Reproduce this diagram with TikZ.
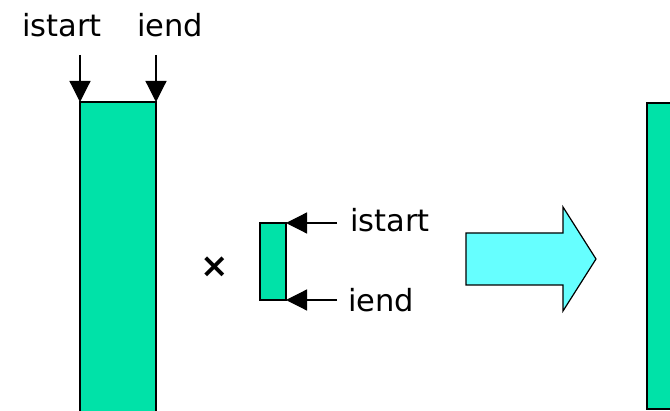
\documentclass[tikz,border=0pt]{standalone}
\usepackage{fontspec}
\setmainfont{DejaVu Sans}
\usetikzlibrary{arrows.meta}
\definecolor{blockgreen}{RGB}{0,226,168}
\definecolor{arrowcyan}{RGB}{102,255,255}
\tikzset{
  block/.style={draw, line width=1.2pt, fill=blockgreen, inner sep=0, outer sep=0, anchor=north west},
  pointer/.style={line width=1.2pt, -{Triangle[length=21pt,width=21pt]}},
  label/.style={inner sep=0, anchor=base west, font=\fontsize{30.5}{36}\selectfont}
}
\begin{document}
\begin{tikzpicture}[x=1pt,y=-1pt]
        \clip (0,0) rectangle (670,411);

        % the three blocks
        \node[block, minimum width=76pt, minimum height=330pt] (big)   at (80,102)  {};
        \node[block, minimum width=26pt, minimum height=77pt]  (small) at (260,223) {};
        \node[block, minimum width=40pt, minimum height=306pt] (res)   at (647,103) {};

        % labels
        \node[label] (bs) at (22,37)   {istart};
        \node[label] (be) at (137,37)  {iend};
        \node[label] (ss) at (350,232) {istart};
        \node[label] (se) at (348,312) {iend};
        \node[inner sep=0, font=\fontsize{34}{40}\selectfont\bfseries] (times) at (215,267) {×};

        % pointers
        \path (big.north west)   ++(0,-47) coordinate (p1);
        \path (big.north east)   ++(0,-47) coordinate (p2);
        \path (small.north east) ++(51,0)  coordinate (p3);
        \path (small.south east) ++(51,0)  coordinate (p4);
        \draw[pointer] (p1) -- (big.north west);
        \draw[pointer] (p2) -- (big.north east);
        \draw[pointer] (p3) -- (small.north east);
        \draw[pointer] (p4) -- (small.south east);

        % big arrow
        \draw[line width=1.2pt, fill=arrowcyan, line join=miter]
          (466,233) -- (563,233) -- (563,207) -- (596,259) -- (563,311)
          -- (563,285) -- (466,285) -- cycle;

      \end{tikzpicture}
\end{document}
